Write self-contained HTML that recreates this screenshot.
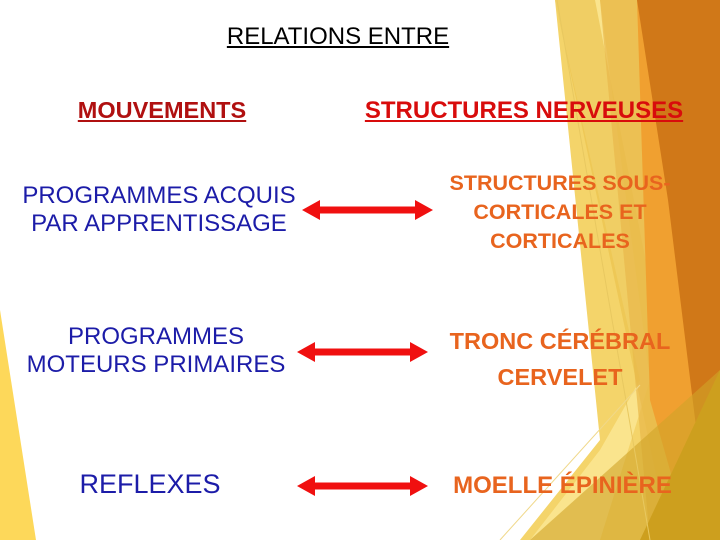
<!DOCTYPE html>
<html><head><meta charset="utf-8"><style>
body{margin:0;width:720px;height:540px;overflow:hidden;background:#fff;position:relative;font-family:"Liberation Sans",sans-serif;font-weight:bold}
svg{position:absolute;left:0;top:0}
.t{position:absolute;text-align:center;line-height:29px;white-space:nowrap}
.b{color:#1c1ca8;font-size:24px;line-height:28px;font-weight:normal}
.o{color:#e8641e;font-size:21.5px}
</style></head><body>
<svg width="720" height="540">
<polygon points="0,310 0,540 36,540" fill="#fdd85a"/>
<polygon points="555,0 640,0 720,0 720,540 520,540 600,440" fill="#f4d46a"/>
<polygon points="555,0 600,0 650,380 600,540 530,540 600,450 640,380" fill="#fbe796" opacity="0.8"/>
<polygon points="555,0 595,0 700,540 670,540" fill="#e9c04a" opacity="0.6"/>
<polygon points="600,0 637,0 700,540 650,540" fill="#e8b84a" opacity="0.7"/>
<polygon points="637,0 720,0 720,540 690,540 650,400" fill="#f0a030"/>
<polygon points="637,0 720,0 720,540 710,540 668,200" fill="#d07818"/>
<polygon points="720,370 720,540 640,540" fill="#c89a10"/>
<polygon points="530,540 720,370 720,540" fill="#d0a428" opacity="0.6"/>
<line x1="557" y1="0" x2="650" y2="540" stroke="#e8c860" stroke-width="1"/>
<line x1="500" y1="540" x2="640" y2="385" stroke="#f0d88a" stroke-width="1"/>
<g fill="#f01010">
<polygon points="302,210 320,200 320,206.5 415,206.5 415,200 433,210 415,220 415,213.5 320,213.5 320,220"/>
<polygon points="297,352 315,342 315,348.5 410,348.5 410,342 428,352 410,362 410,355.5 315,355.5 315,362"/>
<polygon points="297,486 315,476 315,482.5 410,482.5 410,476 428,486 410,496 410,489.5 315,489.5 315,496"/>
</g>
</svg>
<div class="t" style="left:180px;top:22px;width:316px;font-weight:normal;font-size:24px;text-decoration:underline">RELATIONS ENTRE</div>
<div class="t" style="left:42px;top:96px;width:240px;font-size:23.5px;color:#b01010;text-decoration:underline">MOUVEMENTS</div>
<div class="t" style="left:354px;top:96px;width:340px;font-size:24px;color:#d80c0c;text-decoration:underline">STRUCTURES NERVEUSES</div>
<div class="t b" style="left:0px;top:182px;width:318px">PROGRAMMES ACQUIS<br>PAR APPRENTISSAGE</div>
<div class="t o" style="left:410px;top:169px;width:300px">STRUCTURES SOUS-<br>CORTICALES ET<br>CORTICALES</div>
<div class="t b" style="left:0px;top:323px;width:312px">PROGRAMMES<br>MOTEURS PRIMAIRES</div>
<div class="t o" style="left:410px;top:323px;width:300px;line-height:36px;font-size:23.5px">TRONC CÉRÉBRAL<br>CERVELET</div>
<div class="t b" style="left:30px;top:470px;width:240px;font-size:27px">REFLEXES</div>
<div class="t o" style="left:410px;top:471px;width:305px;font-size:24px">MOELLE ÉPINIÈRE</div>
</body></html>
